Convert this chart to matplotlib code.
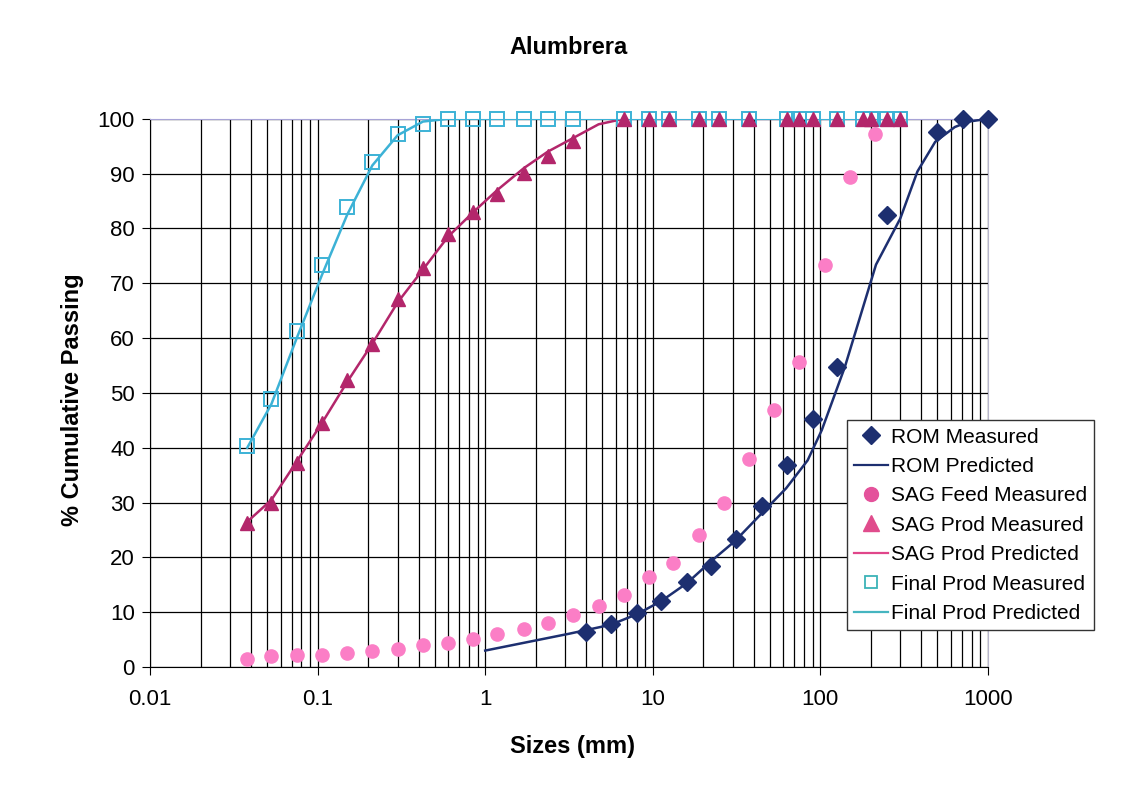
import matplotlib
matplotlib.use("Agg")
import matplotlib.pyplot as plt
from matplotlib.lines import Line2D
from matplotlib.ticker import LogLocator, FixedLocator, NullFormatter

plt.rcParams['font.family'] = ['Liberation Sans', 'DejaVu Sans']

# ROM
rom_size = [4, 5.6, 8, 11.2, 16, 22.4, 31.5, 45, 63, 90, 125, 250, 500, 710, 1000]
rom_meas = [6.4, 7.8, 9.8, 12.1, 15.5, 18.5, 23.4, 29.3, 36.8, 45.3, 54.8, 82.4, 97.6, 99.9, 100.0]
rom_pred_size = [1, 3.2, 5.6, 8, 11.2, 16, 22.5, 31, 43, 62.5, 84, 102, 140, 215, 300, 380, 485, 635, 770, 1000]
rom_pred = [3.0, 6.1, 7.7, 9.6, 12.0, 15.3, 19.4, 23.0, 27.5, 32.6, 37.7, 43.2, 54.7, 73.4, 81.8, 90.4, 95.8, 98.5, 99.5, 100.0]

# SAG feed
feed_size = [0.038, 0.053, 0.075, 0.106, 0.15, 0.212, 0.3, 0.425, 0.6, 0.85, 1.18, 1.7, 2.36,
             3.35, 4.75, 6.7, 9.5, 13.2, 19, 26.5, 37.5, 53, 75, 106, 150, 212]
feed_meas = [1.5, 2.0, 2.2, 2.2, 2.5, 3.0, 3.2, 4.0, 4.4, 5.1, 6.0, 7.0, 8.1,
             9.4, 11.2, 13.1, 16.4, 18.9, 24.1, 30.0, 38.0, 46.8, 55.7, 73.3, 89.3, 97.2]

# SAG product and final product (same sieve series)
prod_size = [0.038, 0.053, 0.075, 0.106, 0.15, 0.212, 0.3, 0.425, 0.6, 0.85, 1.18, 1.7, 2.36, 3.35,
             6.7, 9.5, 12.5, 19, 25, 37.5, 63, 75, 90, 125, 180, 200, 250, 300]
sag_meas = [26.2, 29.9, 37.2, 44.6, 52.4, 59.0, 67.2, 72.8, 78.9, 83.0, 86.2, 90.2, 93.2, 95.9,
            100, 100, 100, 100, 100, 100, 100, 100, 100, 100, 100, 100, 100, 100]
final_meas = [40.4, 48.9, 61.3, 73.4, 83.9, 92.1, 97.3, 99.1, 99.9, 100, 100, 100, 100, 100,
              100, 100, 100, 100, 100, 100, 100, 100, 100, 100, 100, 100, 100, 100]

pred_size = [0.038, 0.053, 0.075, 0.106, 0.15, 0.212, 0.3, 0.425, 0.6, 0.85, 1.18, 1.7, 2.36, 3.35,
             4.75, 6.7, 300]
sag_pred = [26.5, 30.5, 37.5, 44.5, 52.0, 59.0, 66.5, 72.5, 78.5, 83.0, 87.0, 91.0, 94.0, 96.5,
            99.0, 100, 100]
final_pred = [40.0, 48.0, 60.0, 71.5, 82.5, 91.5, 97.0, 99.5, 100, 100, 100, 100, 100, 100,
              100, 100, 100]

rom_c = '#1D2F70'
feed_c = '#FB7EC6'
sag_c = '#B3266B'
final_c = '#3CB2D6'

fig = plt.figure(figsize=(11.46, 8.05), dpi=100, facecolor='white')
ax = fig.add_axes([0.131, 0.1714, 0.731, 0.681])

ax.set_xscale('log')
ax.set_xlim(0.01, 1000)
ax.set_ylim(0, 100)

ax.xaxis.set_major_locator(LogLocator(base=10, numticks=10))
ax.xaxis.set_minor_locator(LogLocator(base=10, subs=range(2, 10), numticks=50))
ax.xaxis.set_minor_formatter(NullFormatter())
ax.set_xticks([0.01, 0.1, 1, 10, 100, 1000])
ax.set_xticklabels(['0.01', '0.1', '1', '10', '100', '1000'])
ax.yaxis.set_major_locator(FixedLocator(range(0, 101, 10)))

ax.grid(True, which='major', axis='both', color='black', linewidth=0.9)
ax.grid(True, which='minor', axis='x', color='black', linewidth=0.9)
ax.tick_params(axis='both', which='major', labelsize=16, length=6, color='black')
ax.tick_params(axis='y', pad=5)
ax.tick_params(axis='x', pad=10)
ax.tick_params(axis='x', which='minor', length=0)
for s in ['left', 'bottom']:
    ax.spines[s].set_color('black')
ax.spines['top'].set_color('#A7A3D6')
ax.spines['right'].set_color('#B8B6CC')

# predicted curves
ax.plot(rom_pred_size, rom_pred, color=rom_c, lw=1.8, zorder=3)
ax.plot(pred_size, sag_pred, color=sag_c, lw=1.8, zorder=3)
ax.plot(pred_size, final_pred, color=final_c, lw=1.8, zorder=3)

# measured points
ax.plot(feed_size, feed_meas, 'o', color=feed_c, ms=9.5, mec=feed_c, zorder=4, clip_on=False)
ax.plot(rom_size, rom_meas, 'D', color=rom_c, ms=9, mec=rom_c, zorder=4, clip_on=False)
ax.plot(prod_size, final_meas, 's', mfc='none', mec=final_c, mew=1.4, ms=10, zorder=5, clip_on=False)
ax.plot(prod_size, sag_meas, '^', color=sag_c, ms=9.5, mec=sag_c, zorder=6, clip_on=False)

fig.text(569 / 1146, 1 - 48 / 805, 'Alumbrera', fontsize=17, fontweight='bold',
         ha='center', va='center')
fig.text(572 / 1146, 1 - 746 / 805, 'Sizes (mm)', fontsize=17, fontweight='bold',
         ha='center', va='center')
fig.text(72 / 1146, 1 - 400 / 805, '% Cumulative Passing', fontsize=17, fontweight='bold',
         ha='center', va='center', rotation=90)

handles = [
    Line2D([], [], ls='none', marker='D', color=rom_c, ms=9),
    Line2D([], [], color=rom_c, lw=1.6),
    Line2D([], [], ls='none', marker='o', color='#E4529B', ms=10),
    Line2D([], [], ls='none', marker='^', color='#E04C8C', ms=11),
    Line2D([], [], color='#E0468A', lw=1.6),
    Line2D([], [], ls='none', marker='s', mfc='none', mec='#3BB3B8', mew=1.3, ms=9),
    Line2D([], [], color='#45B5C0', lw=1.6),
]
labels = ['ROM Measured', 'ROM Predicted', 'SAG Feed Measured', 'SAG Prod Measured',
          'SAG Prod Predicted', 'Final Prod Measured', 'Final Prod Predicted']
leg = fig.legend(handles, labels, loc='upper left', bbox_to_anchor=(0.739, 0.478),
                 fontsize=15, frameon=True, fancybox=False, edgecolor='#333333',
                 framealpha=1, handlelength=1.6, handletextpad=0.15, labelspacing=0.5,
                 borderpad=0.35, borderaxespad=0)
leg.get_frame().set_linewidth(1.0)

fig.savefig('out.png', dpi=100, facecolor='white')
